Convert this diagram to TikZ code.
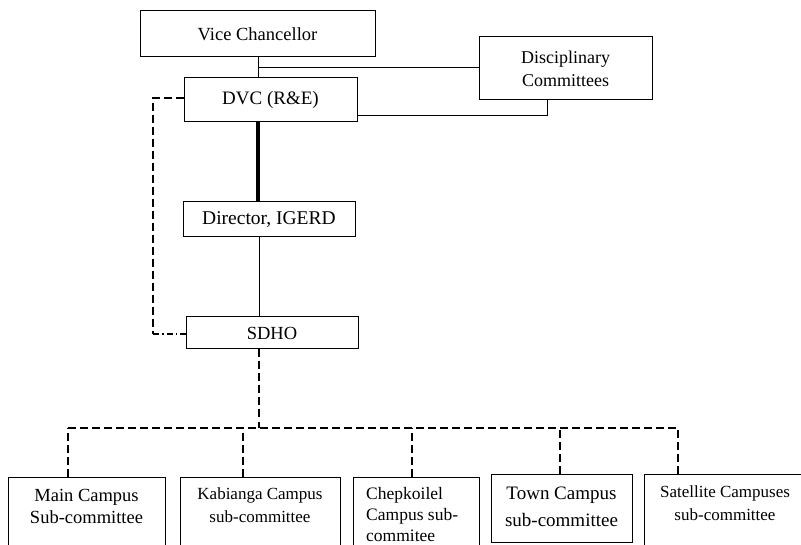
\documentclass[tikz,border=0pt]{standalone}
\usepackage{fontspec}
\setmainfont{Liberation Serif}
\begin{document}
\begin{tikzpicture}[x=1pt,y=-1pt,
  box/.style={draw, line width=1pt, inner sep=0pt, font=\fontsize{18.5}{23}\selectfont, align=center},
  lbl/.style={inner sep=0pt, align=center},
  dsh/.style={line width=2pt, dash pattern=on 8pt off 4pt},
  dshdot/.style={line width=2pt, dash pattern=on 6pt off 3pt on 1.5pt off 3pt},
  solid1/.style={line width=1pt}]
\clip (0,0) rectangle (801,545);
\fill[white] (0,0) rectangle (801,545);
% top nodes
\node[box, minimum width=235, minimum height=46] (vc) at (257.5,34) {Vice Chancellor};
\node[box, minimum width=173, minimum height=63, font=\fontsize{18}{23}\selectfont] (disc) at (565.5,68.5) {Disciplinary\\Committees};
\node[box, minimum width=173, minimum height=44, font=\fontsize{19}{23}\selectfont] (dvc) at (270.5,100) {DVC (R\&E)};
\node[box, minimum width=172, minimum height=35, font=\fontsize{19.5}{23}\selectfont] (dir) at (269,219.5) {Director, IGERD};
\node[box, minimum width=172, minimum height=32] (sdho) at (272,333) {SDHO};
% bottom boxes
\node[box, minimum width=157, minimum height=120] (mainc) at (86.5,537) {};
\node[box, minimum width=160, minimum height=120] (kab) at (260,537) {};
\node[box, minimum width=126, minimum height=120] (chep) at (416,537) {};
\node[box, minimum width=141, minimum height=68] (town) at (561.5,508) {};
\node[box, minimum width=176, minimum height=120] (sat) at (732,534) {};
\node[lbl, font=\fontsize{18.5}{22}\selectfont] (mainl) at (86.5,506) {Main Campus\\Sub-committee};
\node[lbl, font=\fontsize{17}{23}\selectfont] (kabl) at (260,505.5) {Kabianga Campus\\sub-committee};
\node[lbl, font=\fontsize{17.5}{21}\selectfont, align=left, anchor=west] (chepl) at (366,514.5) {Chepkoilel\\Campus sub-\\commitee};
\node[lbl, font=\fontsize{19}{27}\selectfont] (townl) at (561.5,506.5) {Town Campus\\sub-committee};
\node[lbl, font=\fontsize{17}{23}\selectfont] (satl) at (725,503.5) {Satellite Campuses\\sub-committee};
% junction coordinates
\coordinate (j1) at (258,68);
\coordinate (jd) at (547,116);
\coordinate (jl) at (153,98);
\coordinate (jb) at (153,334);
\coordinate (hb) at (259,428);
% solid connectors
\draw[solid1] (vc.south -| j1) -- (dvc.north -| j1);
\draw[solid1] (j1) -- (j1 -| disc.west);
\draw[solid1] (dvc.east |- jd) -- (jd) -- (disc.south -| jd);
\draw[line width=4pt] (dvc.south -| j1) -- (dir.north -| j1);
\draw[solid1] (dir.south -| hb) -- (sdho.north -| hb);
% dashed links
\draw[dsh] (dvc.west |- jl) -- (jl) -- (jb);
\draw[dshdot] (jb) -- (sdho.west |- jb);
\draw[dsh] (sdho.south -| hb) -- (hb);
\draw[dsh] (68,428) -- (678,428);
\draw[dsh] (mainc.north -| 68,0) -- (68,428);
\draw[dsh] (kab.north -| 243,0) -- (243,428);
\draw[dsh] (chep.north -| 412,0) -- (412,428);
\draw[dsh] (town.north -| 560,0) -- (560,428);
\draw[dsh] (sat.north -| 678,0) -- (678,428);
\end{tikzpicture}
\end{document}
